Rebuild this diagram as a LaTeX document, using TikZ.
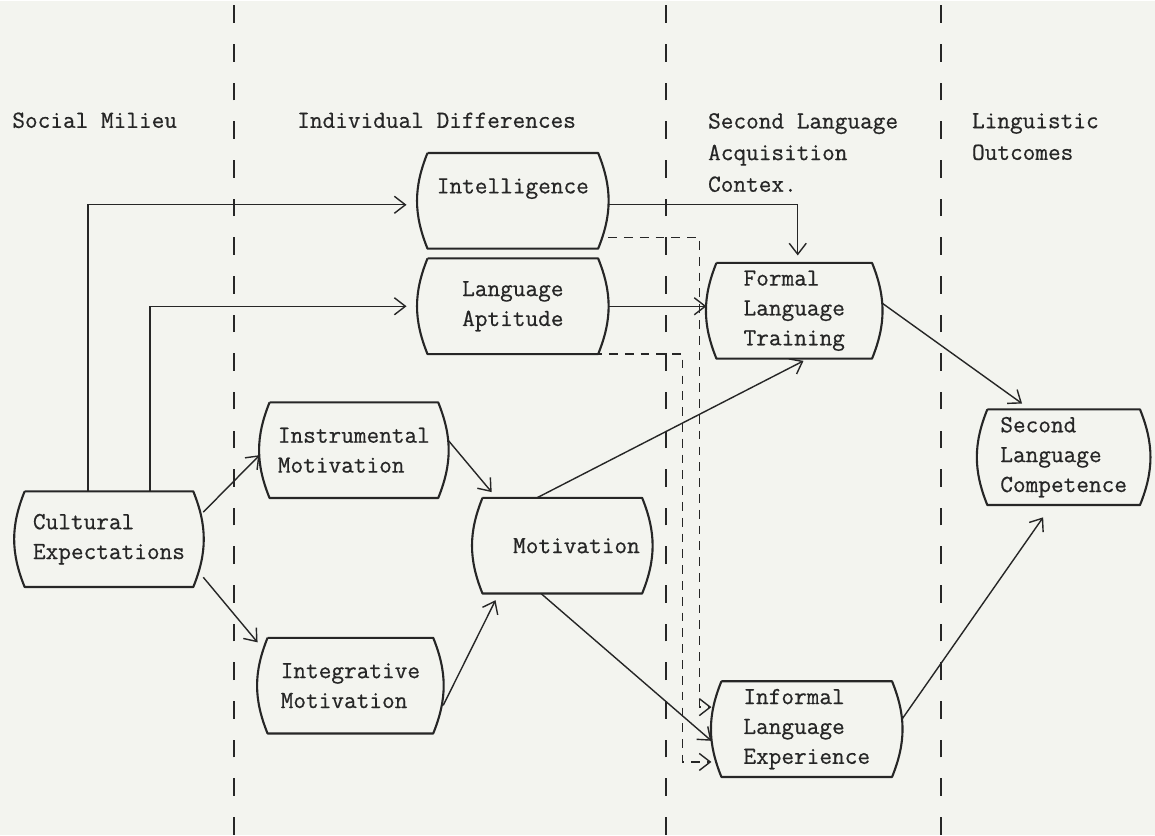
\documentclass[tikz,border=0pt]{standalone}
\usepackage{fontspec}
\usepackage{xcolor}
\usepackage{tikz}
\usetikzlibrary{arrows.meta}
\newfontfamily\typefont{Latin Modern Mono}[FakeBold=0.6]
\definecolor{paper}{HTML}{F3F4EF}
\definecolor{ink}{HTML}{262626}
\tikzset{
  capsule/.style={minimum height=1.9cm, align=left, inner sep=0pt, text=ink,
    font=\typefont\fontsize{14}{17}\selectfont},
  rim/.style={draw=ink, line width=1.2pt, line join=round},
  flow/.style={draw=ink, line width=0.8pt, -{Straight Barb[length=2.2mm,width=3.4mm]}},
  hint/.style={flow, dash pattern=on 5pt off 4pt},
  divider/.style={draw=ink, line width=1pt, dash pattern=on 10pt off 12pt},
  heading/.style={text=ink, inner sep=0pt, align=left, font=\typefont\fontsize{14}{18}\selectfont}
}

\begin{document}
\begin{tikzpicture}
  \fill[paper] (0,0) rectangle (23.1,16.68);
  \foreach \x in {4.68,13.32,18.82}
    \draw[divider] (\x,0) -- (\x,16.68);

  \node[heading, anchor=base west] (milieu) at (0.24,14.14) {Social Milieu};
  \node[heading, anchor=base west] (differences) at (5.94,14.14) {Individual Differences};
  \node[heading, anchor=north west] (context) at (14.16,14.44) {Second Language\\Acquisition\\Contex.};
  \node[heading, anchor=north west] (outcomes) at (19.44,14.44) {Linguistic\\Outcomes};

  \node[capsule, minimum width=3.8cm] (intel) at (10.26,12.68) {Intelligence\\\mbox{}};
  \node[capsule, minimum width=3.8cm] (apt) at (10.26,10.57) {Language\\Aptitude};
  \node[capsule, minimum width=3.5cm] (formal) at (15.89,10.48) {Formal\\Language\\Training};
  \node[capsule, minimum width=3.76cm] (instr) at (7.08,7.69) {Instrumental\\Motivation};
  \node[capsule, minimum width=3.76cm] (cult) at (2.18,5.91) {Cultural\\Expectations};
  \node[capsule, minimum width=3.58cm, text width=3.1cm, align=right] (motiv) at (11.25,5.78) {Motivation};
  \node[capsule, minimum width=3.7cm] (integ) at (7.01,2.98) {Integrative\\Motivation};
  \node[capsule, minimum width=3.8cm] (informal) at (16.14,2.11) {Informal\\Language\\Experience};
  \node[capsule, minimum width=3.44cm] (compet) at (21.28,7.55) {Second\\Language\\Competence};

  \foreach \n in {intel,apt,formal,instr,cult,motiv,integ,informal,compet}
    \draw[rim] ([xshift=0.2cm]\n.north west) -- ([xshift=-0.2cm]\n.north east)
      to[bend left=22] ([xshift=-0.2cm]\n.south east) -- ([xshift=0.2cm]\n.south west)
      to[bend left=22] ([xshift=0.2cm]\n.north west);

  \draw[flow, shorten >=0.22cm] ([xshift=-0.42cm]cult.north) |- ([yshift=-0.08cm]intel.west);
  \draw[flow, shorten >=0.22cm] ([xshift=0.82cm]cult.north) |- (apt.west);
  \draw[flow] (cult.16) -- (instr.183);
  \draw[flow] (cult.-22) -- (integ.155);
  \draw[flow, shorten >=0.15cm] (instr.6) -- (motiv.144);
  \draw[flow, shorten >=0.15cm] (integ.-12) -- (motiv.217);
  \draw[flow, shorten >=0.1cm] (motiv.118) -- (formal.-74);
  \draw[flow] (motiv.246) -- (informal.187);
  \draw[flow] (apt.east) -- (apt.east -| formal.west);
  \draw[flow, shorten >=0.15cm] ([yshift=-0.08cm]intel.east) -| ([xshift=0.07cm]formal.north);
  \draw[flow, shorten >=0.2cm] (formal.5) -- (compet.125);
  \draw[flow, shorten >=0.3cm] (informal.6) -- (compet.256);
  \draw[hint] (intel.-21) -| ([xshift=-0.24cm]informal.167) -- (informal.167);
  \draw[hint] ([xshift=-0.3cm]apt.south east) -| ([xshift=-0.58cm]informal.199) -- (informal.199);
\end{tikzpicture}
\end{document}
